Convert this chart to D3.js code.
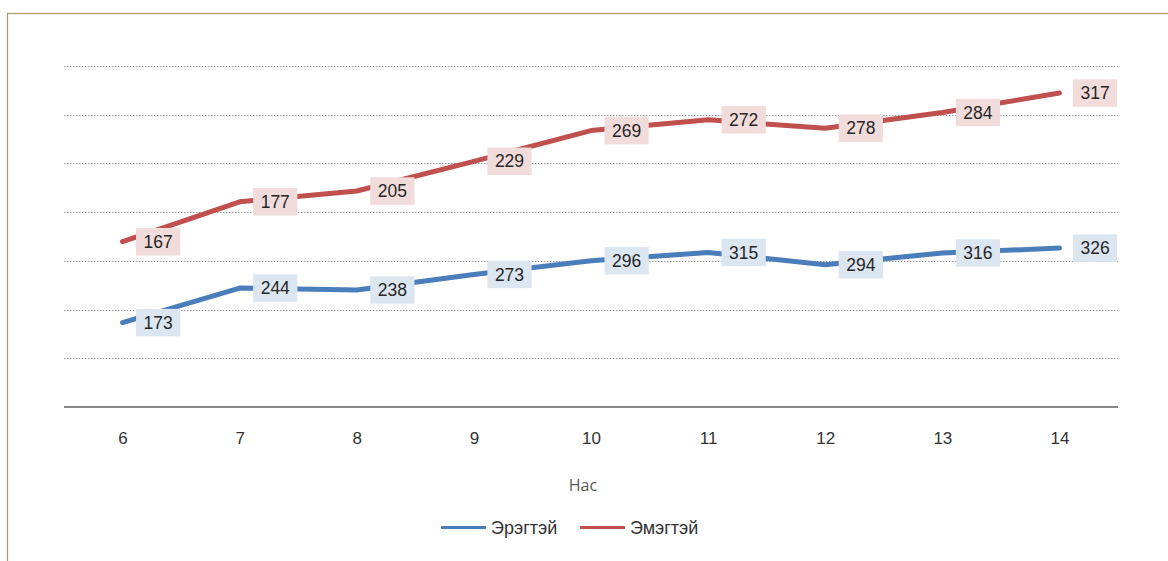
<!DOCTYPE html>
<html>
<head>
<meta charset="utf-8">
<script src="https://cdn.jsdelivr.net/npm/d3@7"></script>
<style>
  html, body { margin: 0; padding: 0; background: #fff; }
  svg { display: block; }
</style>
</head>
<body>
<svg id="chart" width="1168" height="561"></svg>
<script>
// ---- data ----
const categories = ["6", "7", "8", "9", "10", "11", "12", "13", "14"];
const seriesNames = ["Эрэгтэй", "Эмэгтэй"];
// plotted positions (in gridline units of 50)
const maleValues   = [86.5, 122, 120, 136, 150, 158.5, 146, 158, 163];
const femaleValues = [169.5, 210.5, 221.5, 252, 283.5, 294.5, 286, 302, 322];
// data labels shown on the points
const maleLabels   = [173, 244, 238, 273, 296, 315, 294, 316, 326];
const femaleLabels = [167, 177, 205, 229, 269, 272, 278, 284, 317];
const gridTicks = [50, 100, 150, 200, 250, 300, 350];
const axisTitle = "Нас";

(function () {
const svg = d3.select("#chart");
const W = 1168, H = 561;

// border frame
svg.append("rect").attr("x", 7.5).attr("y", 13.5).attr("width", W + 10).attr("height", H + 10)
  .attr("fill", "none").attr("stroke", "#a8976a").attr("stroke-width", 1.2);

const pLeft = 64, pRight = 1118, pTop = 65.75, pBottom = 407;
const x = d3.scalePoint().domain(categories).range([pLeft, pRight]).padding(0.5);
const y = d3.scaleLinear().domain([0, 350]).range([pBottom, pTop]);

// gridlines
svg.append("g").selectAll("line").data(gridTicks).join("line")
  .attr("x1", pLeft).attr("x2", pRight)
  .attr("y1", d => Math.round(y(d)) + 0.5).attr("y2", d => Math.round(y(d)) + 0.5)
  .attr("stroke", "#9a9a9a").attr("stroke-width", 1).attr("stroke-dasharray", "1.5,1.5");

// x axis
const xAxis = svg.append("g").attr("transform", `translate(0,${pBottom})`)
  .call(d3.axisBottom(x).tickSize(0).tickPadding(24));
xAxis.select(".domain").attr("stroke", "#868686").attr("stroke-width", 2)
  .attr("d", `M${pLeft},0H${pRight}`);
xAxis.selectAll("text").attr("font-family", "Liberation Sans, Arial, sans-serif")
  .attr("font-size", 17).attr("fill", "#333").attr("dy", "0.35em").attr("y", 31);

// axis title
svg.append("text").attr("x", 583).attr("y", 485).attr("dy", "0.35em")
  .attr("text-anchor", "middle").attr("font-family", "Open Sans, sans-serif")
  .attr("font-size", 16).attr("fill", "#595959").text(axisTitle);

const series = [
  { name: seriesNames[0], values: maleValues, labels: maleLabels, color: "#4a7ebb", fill: "#dce6f1" },
  { name: seriesNames[1], values: femaleValues, labels: femaleLabels, color: "#c0504d", fill: "#f2dcdb" }
];

const line = d3.line().x((d, i) => x(categories[i])).y(d => y(d));

series.forEach(s => {
  svg.append("path").datum(s.values).attr("d", line)
    .attr("fill", "none").attr("stroke", s.color).attr("stroke-width", 5)
    .attr("stroke-linecap", "round").attr("stroke-linejoin", "round");
});

series.forEach(s => {
  const g = svg.append("g");
  s.values.forEach((v, i) => {
    const px = x(categories[i]), py = y(v);
    const lg = g.append("g");
    const t = lg.append("text").attr("font-family", "Liberation Sans, Arial, sans-serif")
      .attr("font-size", 17.5).attr("fill", "#262626").attr("text-anchor", "middle")
      .attr("dy", "0.35em").text(s.labels[i]);
    const tw = t.node().getComputedTextLength();
    const bw = tw + 15, bh = 27.5;
    const bx = px + 13.5;
    lg.insert("rect", "text").attr("x", bx).attr("y", py - bh / 2)
      .attr("width", bw).attr("height", bh).attr("fill", s.fill);
    t.attr("x", bx + bw / 2).attr("y", py);
  });
});

// legend
const legend = svg.append("g");
const legItems = [
  { x1: 441, x2: 486, tx: 491, s: series[0] },
  { x1: 580, x2: 625, tx: 630, s: series[1] }
];
legItems.forEach(it => {
  legend.append("line").attr("x1", it.x1).attr("x2", it.x2).attr("y1", 527.5).attr("y2", 527.5)
    .attr("stroke", it.s.color).attr("stroke-width", 3);
  legend.append("text").attr("x", it.tx).attr("y", 527.5).attr("dy", "0.35em")
    .attr("font-family", "Liberation Sans, Arial, sans-serif").attr("font-size", 18)
    .attr("fill", "#333").text(it.s.name);
});
})();
</script>
</body>
</html>
